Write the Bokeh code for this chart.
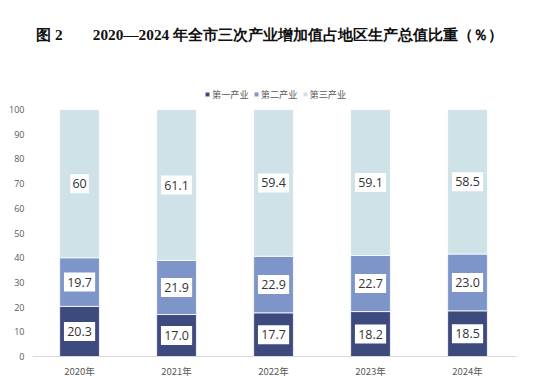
from bokeh.plotting import figure
from bokeh.models import ColumnDataSource, Label, Legend, LegendItem, FixedTicker, Range1d
from bokeh.core.properties import value
from bokeh.embed import file_html
from bokeh.resources import INLINE

years = ["2020年", "2021年", "2022年", "2023年", "2024年"]
primary = [20.3, 17.0, 17.7, 18.2, 18.5]
secondary = [19.7, 21.9, 22.9, 22.7, 23.0]
tertiary = [60.0, 61.1, 59.4, 59.1, 58.5]
primary_txt = ["20.3", "17.0", "17.7", "18.2", "18.5"]
secondary_txt = ["19.7", "21.9", "22.9", "22.7", "23.0"]
tertiary_txt = ["60", "61.1", "59.4", "59.1", "58.5"]
series_names = ["第一产业", "第二产业", "第三产业"]
colors = ["#3D4A7D", "#7E95C9", "#CFE2E7"]
title_text = "图 2　　2020—2024 年全市三次产业增加值占地区生产总值比重（％）"
y_ticks = list(range(0, 101, 10))

x = list(range(len(years)))
b1 = [0] * len(x)
t1 = primary
b2 = primary
t2 = [a + b for a, b in zip(primary, secondary)]
b3 = t2
t3 = [a + b for a, b in zip(t2, tertiary)]

src = ColumnDataSource(dict(x=x, b1=b1, t1=t1, b2=b2, t2=t2, b3=b3, t3=t3))

# the frame runs from the canvas top down to the x axis; the y axis only labels 0-100
p = figure(width=528, height=380, output_backend="svg", toolbar_location=None,
           x_range=Range1d(-0.485, 4.505), y_range=Range1d(0, 144.2),
           min_border_left=32, min_border_right=12, min_border_top=0, min_border_bottom=21)
p.outline_line_color = None
p.xgrid.grid_line_color = None
p.ygrid.grid_line_color = None

r1 = p.vbar(x="x", bottom="b1", top="t1", width=0.41, source=src, fill_color=colors[0], line_color="white", line_width=0.8)
r2 = p.vbar(x="x", bottom="b2", top="t2", width=0.41, source=src, fill_color=colors[1], line_color="white", line_width=0.8)
r3 = p.vbar(x="x", bottom="b3", top="t3", width=0.41, source=src, fill_color=colors[2], line_color="white", line_width=0.8)

lx, ly, lt, lw = [], [], [], []
for bot, top, txt in ((b1, t1, primary_txt), (b2, t2, secondary_txt), (b3, t3, tertiary_txt)):
    for i in x:
        lx.append(i)
        ly.append((bot[i] + top[i]) / 2)
        lt.append(txt[i])
        lw.append(6 + 6.3 * len(txt[i]))
lsrc = ColumnDataSource(dict(x=lx, y=ly, t=lt, w=lw))
p.rect(x="x", y="y", width="w", width_units="screen", height=19, height_units="screen",
       source=lsrc, fill_color="white", line_color=None)
p.text(x="x", y="y", text="t", source=lsrc, text_align="center", text_baseline="middle",
       text_font=value("Open Sans"), text_font_size="12.5px", text_color="#333333")

p.yaxis.ticker = FixedTicker(ticks=y_ticks)
p.yaxis.axis_line_color = None
p.yaxis.major_tick_line_color = None
p.yaxis.minor_tick_line_color = None
p.yaxis.major_tick_out = 0
p.yaxis.major_label_text_font_size = "9px"
p.yaxis.major_label_text_color = "#595959"
p.yaxis.major_label_text_font = "Open Sans"
p.yaxis.major_label_standoff = 8

p.xaxis.ticker = FixedTicker(ticks=x)
p.xaxis.major_label_overrides = {i: y for i, y in enumerate(years)}
p.xaxis.axis_line_color = "#D9D9D9"
p.xaxis.major_tick_line_color = None
p.xaxis.minor_tick_line_color = None
p.xaxis.major_tick_out = 0
p.xaxis.major_label_text_font_size = "9.5px"
p.xaxis.major_label_text_color = "#595959"
p.xaxis.major_label_text_font = "Noto Sans CJK SC"
p.xaxis.major_label_standoff = 7

p.add_layout(Label(x=1.96, y=130.3, text=title_text, text_align="center", text_baseline="middle",
                   text_font="Liberation Serif", text_font_style="bold", text_font_size="15.3px",
                   text_color="#111111"))

legend = Legend(items=[LegendItem(label=n, renderers=[r]) for n, r in zip(series_names, [r1, r2, r3])],
                orientation="horizontal", location=(172, 255),
                label_text_font="Noto Sans CJK SC", label_text_font_size="9.2px", label_text_color="#595959",
                label_height=10, glyph_width=6, glyph_height=6, spacing=4, label_standoff=2,
                padding=0, margin=0, border_line_color=None, background_fill_alpha=0)
p.add_layout(legend)

open("out.html", "w").write(file_html(p, INLINE))
